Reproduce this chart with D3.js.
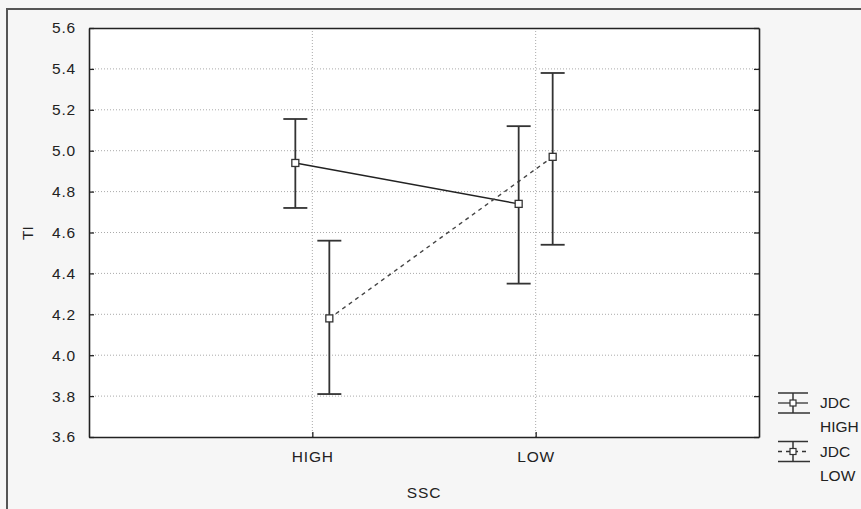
<!DOCTYPE html>
<head>
  <meta charset="utf-8">
  <script src="https://d3js.org/d3.v7.min.js"></script>
  <style>
    body { margin:0; background:#f6f6f6; }
    text { font-family: "Liberation Sans", Arial, sans-serif; fill:#222; }
    .grid line { stroke:#aaa; stroke-dasharray:1,2; }
  </style>
</head>
<body>
  <script>
    // data
    var categories = ["HIGH", "LOW"];
    var seriesNames = [["JDC", "HIGH"], ["JDC", "LOW"]];
    var highMean  = [4.94, 4.74];
    var highLower = [4.72, 4.35];
    var highUpper = [5.155, 5.12];
    var lowMean   = [4.18, 4.97];
    var lowLower  = [3.81, 4.54];
    var lowUpper  = [4.56, 5.38];
    var yTicks = [3.6, 3.8, 4.0, 4.2, 4.4, 4.6, 4.8, 5.0, 5.2, 5.4, 5.6];

    var series = [
      {name: seriesNames[0], mean: highMean, lo: highLower, hi: highUpper, dash: null, off: -17},
      {name: seriesNames[1], mean: lowMean, lo: lowLower, hi: lowUpper, dash: "4,4", off: 17}
    ];

    var W = 861, H = 509;
    var pL = 89, pT = 28, pR = 759, pB = 437;
    var fs = 15.5;

    var svg = d3.select("body").append("svg")
      .attr("width", W)
      .attr("height", H);

    // outer frame (only left and top are in view)
    svg.append("path")
      .attr("d", "M7," + H + "V9H" + W)
      .attr("fill", "none")
      .attr("stroke", "#555")
      .attr("stroke-width", 2);

    var x = d3.scalePoint().domain(categories).range([pL, pR]).padding(1);
    var y = d3.scaleLinear().domain([3.6, 5.6]).range([pB, pT]);

    svg.append("rect")
      .attr("x", pL).attr("y", pT)
      .attr("width", pR - pL).attr("height", pB - pT)
      .attr("fill", "#fff");

    // grid
    var grid = svg.append("g").attr("class", "grid");
    grid.selectAll(".h").data(yTicks.slice(1, -1)).enter().append("line")
      .attr("x1", pL).attr("x2", pR)
      .attr("y1", function(d){ return y(d); })
      .attr("y2", function(d){ return y(d); });
    grid.selectAll(".v").data(categories).enter().append("line")
      .attr("y1", pT).attr("y2", pB)
      .attr("x1", function(d){ return x(d); })
      .attr("x2", function(d){ return x(d); });

    // axes
    var yAxis = d3.axisLeft(y).tickValues(yTicks).tickFormat(d3.format(".1f")).tickSizeInner(-5).tickSizeOuter(0).tickPadding(13);
    var gy = svg.append("g").attr("transform", "translate(" + pL + ",0)").call(yAxis);
    var yAxisR = d3.axisRight(y).tickValues(yTicks).tickFormat("").tickSizeInner(-5).tickSizeOuter(0);
    var gyr = svg.append("g").attr("transform", "translate(" + pR + ",0)").call(yAxisR);
    var xAxis = d3.axisBottom(x).tickSizeInner(-5).tickSizeOuter(0).tickPadding(14);
    var gx = svg.append("g").attr("transform", "translate(0," + pB + ")").call(xAxis);
    var xAxisT = d3.axisTop(x).tickFormat("").tickSizeInner(0).tickSizeOuter(0);
    var gxt = svg.append("g").attr("transform", "translate(0," + pT + ")").call(xAxisT);

    [gy, gyr, gx, gxt].forEach(function(g){
      g.selectAll("path.domain").attr("stroke", "#222").attr("stroke-width", 1.6);
      g.selectAll(".tick line").attr("stroke", "#222").attr("stroke-width", 1.3);
      g.selectAll("text").attr("font-size", fs).attr("fill", "#222")
        .attr("letter-spacing", 0.8)
        .attr("font-family", "'Liberation Sans', Arial, sans-serif");
    });

    svg.append("text")
      .attr("x", 424).attr("y", 498)
      .attr("text-anchor", "middle").attr("font-size", fs).attr("letter-spacing", 0.8)
      .text("SSC");
    svg.append("text")
      .attr("transform", "translate(33,233) rotate(-90)")
      .attr("text-anchor", "middle").attr("font-size", fs)
      .text("TI");

    // lines
    var line = d3.line();
    series.forEach(function(s){
      var pts = categories.map(function(c, i){ return [x(c) + s.off, y(s.mean[i])]; });
      svg.append("path")
        .attr("d", line(pts))
        .attr("fill", "none")
        .attr("stroke", s.dash ? "#444" : "#222")
        .attr("stroke-width", 1.4)
        .attr("stroke-dasharray", s.dash);
    });

    // error bars + markers
    series.forEach(function(s){
      var g = svg.append("g");
      categories.forEach(function(c, i){
        var cx = x(c) + s.off;
        g.append("line")
          .attr("x1", cx).attr("x2", cx)
          .attr("y1", y(s.lo[i])).attr("y2", y(s.hi[i]))
          .attr("stroke", "#333").attr("stroke-width", 1.8);
        [s.lo[i], s.hi[i]].forEach(function(v){
          g.append("line")
            .attr("x1", cx - 12).attr("x2", cx + 12)
            .attr("y1", y(v)).attr("y2", y(v))
            .attr("stroke", "#333").attr("stroke-width", 1.8);
        });
        g.append("rect")
          .attr("x", cx - 3.5).attr("y", y(s.mean[i]) - 3.5)
          .attr("width", 7).attr("height", 7)
          .attr("fill", "#fff").attr("stroke", "#333").attr("stroke-width", 1.3);
      });
    });

    // legend
    var leg = svg.append("g").selectAll("g").data(series).enter().append("g")
      .attr("transform", function(d, i){ return "translate(777," + (393 + i * 48.5) + ")"; });
    leg.append("line").attr("x1", 1).attr("x2", 31).attr("y1", 0).attr("y2", 0)
      .attr("stroke", "#333").attr("stroke-width", 1.5);
    leg.append("line").attr("x1", 1).attr("x2", 33).attr("y1", 20).attr("y2", 20)
      .attr("stroke", "#333").attr("stroke-width", 1.5);
    leg.append("line").attr("x1", 16).attr("x2", 16).attr("y1", 0).attr("y2", 20)
      .attr("stroke", "#333").attr("stroke-width", 1.5);
    leg.append("line").attr("x1", 1).attr("x2", 31).attr("y1", 10).attr("y2", 10)
      .attr("stroke", "#333").attr("stroke-width", 1.3)
      .attr("stroke-dasharray", function(d){ return d.dash ? "4,4" : null; });
    leg.append("rect").attr("x", 13).attr("y", 7).attr("width", 6).attr("height", 6)
      .attr("fill", "#fff").attr("stroke", "#333").attr("stroke-width", 1.2);
    leg.append("text").attr("x", 43).attr("y", 15).attr("font-size", fs)
      .text(function(d){ return d.name[0]; });
    leg.append("text").attr("x", 43).attr("y", 39).attr("font-size", fs)
      .text(function(d){ return d.name[1]; });
  </script>
</body>
